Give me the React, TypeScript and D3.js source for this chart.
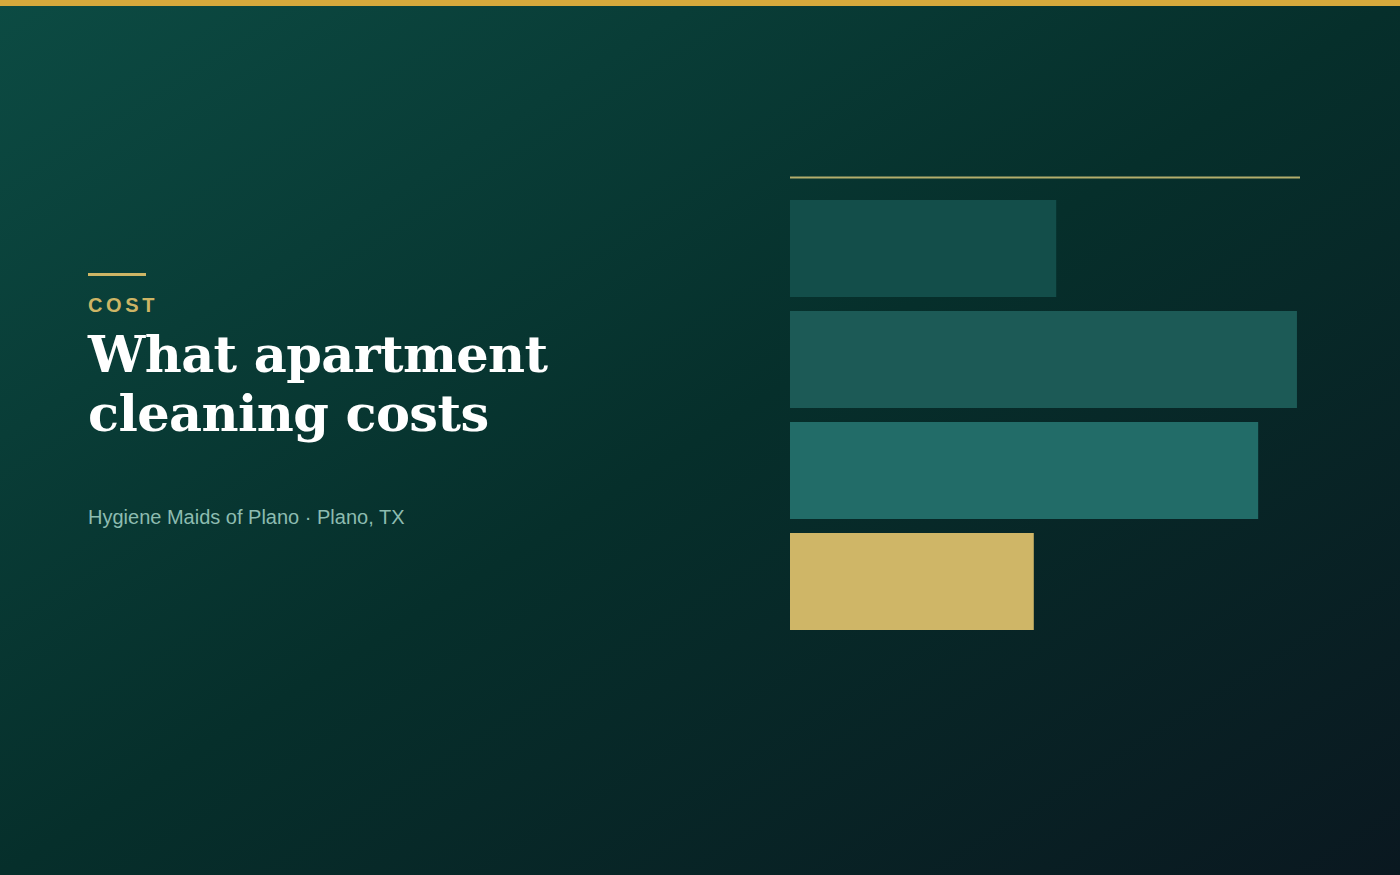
import React from "react";
import * as d3 from "d3";

const W = 1400;
const H = 875;

const categories = ["Standard clean", "Deep clean", "Move-out clean", "Recurring clean"];
const values = [52.2, 99.4, 91.8, 47.8];
const barColors = ["#134e4a", "#1c5a56", "#226c68", "#cfb667"];

const eyebrow = "COST";
const titleLines = ["What apartment", "cleaning costs"];
const subtitle = "Hygiene Maids of Plano · Plano, TX";

export default function App() {
  const x = d3.scaleLinear().domain([0, 100]).range([790, 1300]);
  const yb = d3
    .scaleBand<string>()
    .domain(categories)
    .range([200, 200 + 111 * 4 - 14])
    .paddingInner(14 / 111);

  return (
    <svg
      width={W}
      height={H}
      style={{ position: "fixed", left: 0, top: 0, display: "block" }}
    >
      <defs>
        <linearGradient id="bg" x1="0" y1="0" x2="1" y2="1" gradientUnits="objectBoundingBox">
          <stop offset="0" stopColor="#0c4b43" />
          <stop offset="0.5" stopColor="#062f2b" />
          <stop offset="1" stopColor="#0a1820" />
        </linearGradient>
      </defs>
      <rect x={0} y={0} width={W} height={H} fill="url(#bg)" />
      <rect x={0} y={0} width={W} height={6} fill="#d6a93c" />

      <rect x={88} y={273} width={58} height={3} fill="#cdb565" />
      <text
        x={88}
        y={312}
        fill="#cdb565"
        fontFamily="'Liberation Sans', Arial, sans-serif"
        fontWeight={700}
        fontSize={20}
        letterSpacing={3.6}
      >
        {eyebrow}
      </text>
      {titleLines.map((t, i) => (
        <text
          key={t}
          x={88}
          y={372 + i * 59}
          fill="#ffffff"
          fontFamily="'DejaVu Serif', Georgia, serif"
          fontWeight={700}
          fontSize={51}
          letterSpacing={-0.6}
        >
          {t}
        </text>
      ))}
      <text
        x={88}
        y={524}
        fill="#8dbcb0"
        fontFamily="'Liberation Sans', Arial, sans-serif"
        fontSize={20}
      >
        {subtitle}
      </text>

      <line x1={790} x2={1300} y1={177.5} y2={177.5} stroke="#b3ae6c" strokeWidth={2} />
      {categories.map((c, i) => (
        <rect
          key={c}
          x={x(0)}
          y={yb(c)}
          width={x(values[i]) - x(0)}
          height={yb.bandwidth()}
          fill={barColors[i]}
        />
      ))}
    </svg>
  );
}
